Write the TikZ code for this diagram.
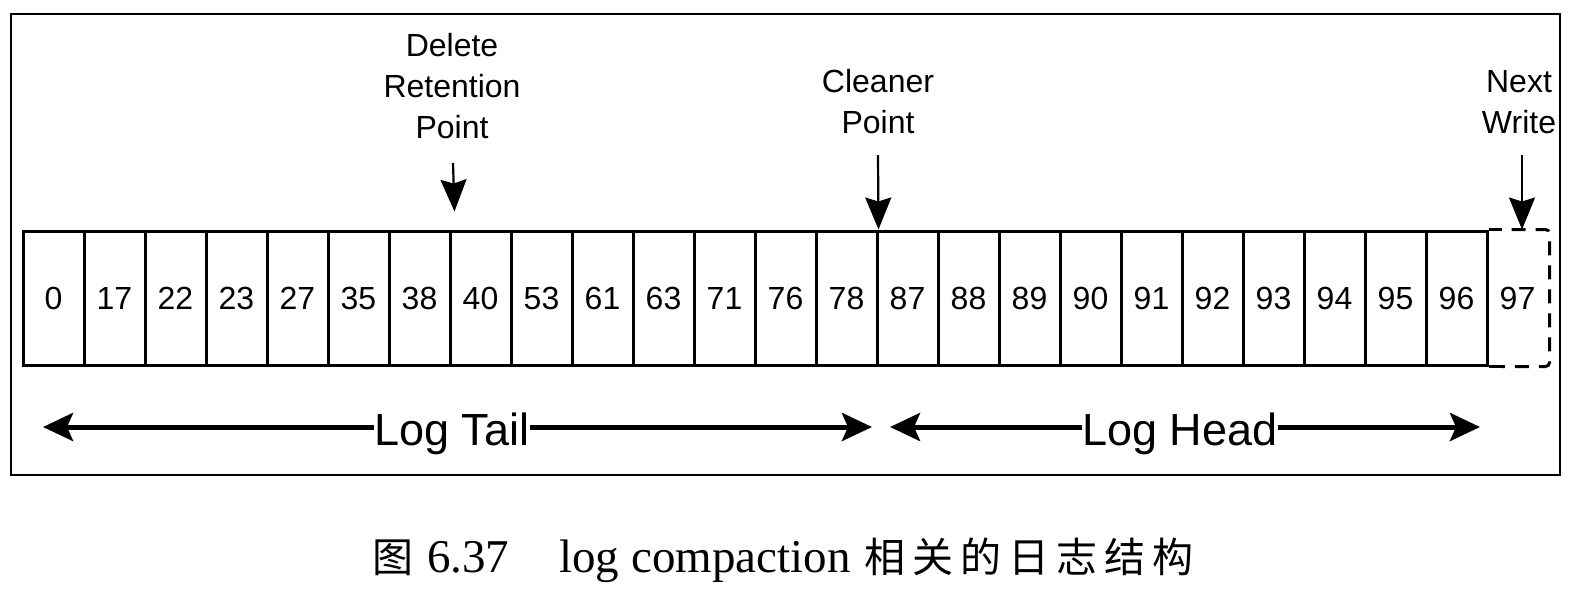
\documentclass[tikz,border=0pt]{standalone}
\usepackage{fontspec}
\setmainfont{Liberation Serif}
\newfontfamily\sansf{Liberation Sans}
\newfontfamily\cjkf{Noto Sans CJK SC}
\usetikzlibrary{arrows.meta}
\begin{document}
\begin{tikzpicture}[x=1pt,y=-1pt,
  cellbox/.style={draw,line width=3pt,minimum width=61pt,minimum height=134pt,inner sep=0pt,font=\sansf\fontsize{32}{38}\selectfont},
  lbl/.style={align=center,font=\sansf\fontsize{32}{41}\selectfont,inner sep=0pt},
  downarrow/.style={line width=2.2pt,-{Stealth[length=32pt,width=26pt,inset=4pt]}},
  bigarrow/.style={line width=5pt,-{Stealth[length=30pt,width=28pt,inset=6pt]}},
  bigtext/.style={font=\sansf\fontsize{45}{54}\selectfont,inner sep=0pt},
  frame/.style={line width=2.5pt},
  cjktext/.style={font=\cjkf\fontsize{41}{44}\selectfont},
  ]
\useasboundingbox (0,0) rectangle (1574,590);
\draw[frame] (11,14) rectangle (1560,475);
% cells
\foreach \v [count=\i from 0] in {0,17,22,23,27,35,38,40,53,61,63,71,76,78,87,88,89,90,91,92,93,94,95,96}
  \node[cellbox] (c\i) at ({53.5+61*\i},298) {\v};
\node[cellbox,draw=none] (c24) at ({53.5+61*24},298) {97};
\draw[line width=3pt] (c23.north east) -- ++(13,0);
\draw[line width=3pt] (c23.south east) -- ++(13,0);
\draw[line width=3pt,dash pattern=on 14pt off 10pt,dash phase=14pt,rounded corners=4pt]
  ([xshift=13pt]c23.north east) -- (c24.north east) -- (c24.south east) -- ([xshift=13pt]c23.south east);
% labels
\node[lbl] (drp) at (452,86) {Delete\\Retention\\Point};
\node[lbl] (cp) at (878,102) {Cleaner\\Point};
\node[lbl] (nw) at (1519,102) {Next\\Write};
\coordinate (d1) at (453,163);
\coordinate (cl1) at (878,155);
\coordinate (n1) at (1522,155);
\draw[downarrow] (d1) -- ([xshift=3pt,yshift=18pt]c6.north east);
\draw[downarrow] (cl1) -- (c13.north east);
\draw[downarrow] (n1) -- ([xshift=4.5pt]c24.north);
% log tail / head
\node[bigtext] (tail) at (452,434) {Log Tail};
\node[bigtext] (head) at (1180,434) {Log Head};
\coordinate (tl) at (43,427);
\coordinate (tr) at (872,427);
\coordinate (hl) at (890,427);
\coordinate (hr) at (1480,427);
\draw[bigarrow] (tail.west |- tl) -- (tl);
\draw[bigarrow] (tail.east |- tr) -- (tr);
\draw[bigarrow] (head.west |- hl) -- (hl);
\draw[bigarrow] (head.east |- hr) -- (hr);
% caption
\node[anchor=base west,inner sep=0pt,font=\fontsize{47}{50}\selectfont] (cap) at (372,572)
  {{\cjkf\fontsize{41}{44}\selectfont 图}\hspace{14pt}6.37\hspace{50pt}log compaction\hspace{14pt}{\cjkf\fontsize{41}{44}\selectfont 相\hspace{7pt}关\hspace{7pt}的\hspace{7pt}日\hspace{7pt}志\hspace{7pt}结\hspace{7pt}构}};
\end{tikzpicture}
\end{document}
